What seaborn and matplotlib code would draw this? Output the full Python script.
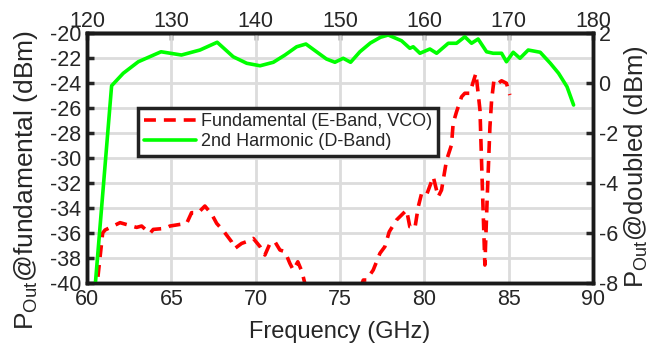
import matplotlib
matplotlib.use("Agg")
from matplotlib import pyplot as plt
import seaborn as sns
import pandas as pd

# 2nd harmonic (D-Band), right axis, vs fundamental frequency
harm_freq = [60.5, 61.46, 62.15, 63.04, 64.39, 65.6, 66.7, 67.72, 68.67, 69.47,
             70.26, 71.05, 71.74, 72.43, 72.98, 73.61, 74.2, 74.7, 75.19, 75.63,
             76.18, 76.8, 77.4, 77.86, 78.65, 79.14, 79.34, 79.74, 80.33, 80.73,
             81.42, 81.91, 82.4, 82.8, 83.19, 83.69, 84.08, 84.58, 84.87, 85.27,
             85.67, 86.16, 86.87, 87.47, 87.96, 88.46, 88.85]
harm_pout = [-8.0, -0.11, 0.39, 0.85, 1.25, 1.12, 1.32, 1.63, 1.05, 0.79,
             0.69, 0.83, 1.12, 1.45, 1.56, 1.25, 0.96, 0.83, 0.99, 0.83,
             1.25, 1.6, 1.83, 1.92, 1.69, 1.39, 1.45, 1.19, 1.36, 1.19,
             1.59, 1.59, 1.85, 1.59, 1.76, 1.25, 1.19, 1.19, 0.85, 1.23,
             0.99, 1.32, 1.23, 0.79, 0.39, -0.15, -0.88]

# fundamental (E-Band, VCO), left axis
fund_freq = [60.65, 60.93, 61.07, 61.96, 62.94, 63.24, 63.73, 63.93, 64.62, 64.92,
             65.51, 65.91, 66.2, 66.6, 66.99, 67.39, 67.69, 68.08, 68.57, 68.77,
             69.17, 69.46, 69.86, 70.26, 70.55, 70.85, 71.14, 71.44, 71.74, 72.03,
             72.23, 72.5, 72.75, 73.0, 74.5, 76.2, 76.38, 76.57, 76.97, 77.37,
             77.66, 77.92, 78.35, 78.95, 79.14, 79.44, 79.64, 79.84, 80.13, 80.53,
             80.82, 81.02, 81.32, 81.61, 81.71, 81.91, 82.21, 82.4, 82.7, 82.9,
             83.06, 83.3, 83.39, 83.59, 83.73, 83.89, 83.99, 84.13, 84.38, 84.58,
             84.87, 85.07]
fund_pout = [-39.5, -36.0, -35.76, -35.17, -35.55, -35.44, -36.03, -35.71, -35.63, -35.44,
             -35.31, -35.23, -34.37, -34.37, -33.84, -34.48, -35.23, -35.81, -36.69, -37.23,
             -36.83, -36.69, -36.43, -37.09, -37.76, -36.83, -36.69, -37.36, -37.49, -38.43,
             -38.96, -38.3, -39.1, -40.5, -42.0, -40.5, -39.76, -39.76, -38.96, -37.62,
             -37.09, -35.9, -34.96, -34.16, -35.5, -35.62, -33.9, -32.82, -32.96, -31.5,
             -33.1, -32.56, -30.16, -28.96, -27.22, -26.3, -25.1, -24.82, -24.82, -23.9,
             -23.22, -26.16, -30.16, -38.56, -33.1, -27.5, -25.36, -23.76, -24.02, -23.82,
             -24.02, -24.96]

fund_df = pd.DataFrame({"freq": fund_freq, "pout": fund_pout})
harm_df = pd.DataFrame({"freq": harm_freq, "pout": harm_pout})

sns.set_style("white")
plt.rcParams["font.family"] = ["Liberation Sans", "DejaVu Sans"]
plt.rcParams["axes.unicode_minus"] = False
plt.rcParams["mathtext.fontset"] = "custom"
plt.rcParams["mathtext.rm"] = "Liberation Sans"

fig = plt.figure(figsize=(6.52, 3.49), dpi=100)
ax = fig.add_axes([0.1334, 0.189, 0.7761, 0.7164])

sns.lineplot(data=fund_df, x="freq", y="pout", ax=ax, sort=False, estimator=None,
             color="#ff0000", linewidth=2.6, label="Fundamental (E-Band, VCO)")
ax.lines[-1].set_dashes([3.3, 2.2])
ax.set_xlim(60, 90)
ax.set_ylim(-40, -20)
ax.set_xticks(range(60, 91, 5))
ax.set_yticks(range(-40, -19, 2))
ax.grid(True, color="#dcdcdc", linewidth=2)
ax.set_axisbelow(True)
ax.set_xlabel("Frequency (GHz)", fontsize=17, labelpad=8)
ax.set_ylabel(r"P$_{\rm Out}$@fundamental (dBm)", fontsize=19)
ax.yaxis.set_label_coords(-0.093, 0.41)
ax.tick_params(direction="in", length=5, width=2.5, labelsize=15.5, pad=4)
ax.get_legend().remove()

ax2 = ax.twinx()
sns.lineplot(data=harm_df, x="freq", y="pout", ax=ax2, sort=False, estimator=None,
             color="#00ff00", linewidth=2.6, label="2nd Harmonic (D-Band)")
ax2.set_ylim(-8, 2)
ax2.set_yticks(range(-8, 3, 2))
ax2.set_ylabel(r"P$_{\rm Out}$@doubled (dBm)", fontsize=18.5)
ax2.yaxis.set_label_coords(1.058, 0.465)
ax2.tick_params(direction="in", length=5, width=2.5, labelsize=15.5, pad=4)
ax2.get_legend().remove()

top = ax.secondary_xaxis("top", functions=(lambda f: 2 * f, lambda f: f / 2))
top.set_xticks(range(120, 181, 10))
top.tick_params(direction="in", length=5, width=2.5, labelsize=15.5, pad=1)

for a in (ax, ax2):
    for s in a.spines.values():
        s.set_linewidth(2.5)
        s.set_color("#1a1a1a")
top.spines["top"].set_linewidth(2.5)

handles = ax.get_lines()[:1] + ax2.get_lines()[:1]
leg = ax2.legend(handles, [h.get_label() for h in handles],
                 loc="upper left", bbox_to_anchor=(0.101, 0.70), borderaxespad=0,
                 frameon=True, fancybox=False, framealpha=1,
                 edgecolor="#222222", fontsize=13, handlelength=2.9,
                 borderpad=0.3, labelspacing=0.15, handletextpad=0.3)
leg.get_frame().set_linewidth(2.5)

fig.savefig("out.png", dpi=100)
